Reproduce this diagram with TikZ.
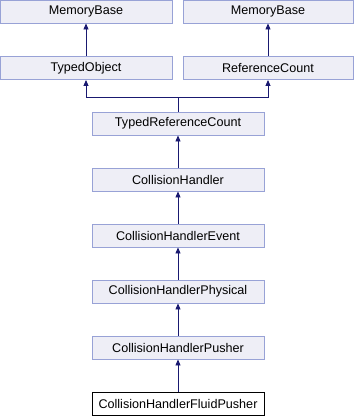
\documentclass[tikz,border=0pt]{standalone}
\usepackage{fontspec}
\setmainfont{Liberation Sans}
\usetikzlibrary{arrows.meta}
\definecolor{boxfill}{HTML}{EEEEF6}
\definecolor{boxline}{HTML}{98A2D6}
\definecolor{edge}{HTML}{191970}
\begin{document}
\begin{tikzpicture}[x=1pt,y=-1pt,
  cls/.style={draw=boxline,fill=boxfill,line width=0.9pt,minimum height=23pt,
    inner sep=0pt,font=\fontsize{12.6}{14}\selectfont,text=black},
  leaf/.style={cls,draw=black,fill=white},
  inh/.style={draw=edge,line width=0.9pt,-{Triangle[length=6pt,width=5pt]}}]
\useasboundingbox (0,0) rectangle (356,416);
% base classes
\node[cls,minimum width=172pt] (mb1) at (86,11.5) {MemoryBase};
\node[cls,minimum width=170pt] (mb2) at (268,11.5) {MemoryBase};
\node[cls,minimum width=172pt] (to) at (86,68) {TypedObject};
\node[cls,minimum width=170pt] (rc) at (268,68) {ReferenceCount};
% single inheritance chain
\node[cls,minimum width=172pt] (trc) at (178,123.5) {TypedReferenceCount};
\node[cls,minimum width=172pt] (ch) at (178,179.5) {CollisionHandler};
\node[cls,minimum width=172pt] (che) at (178,235.5) {CollisionHandlerEvent};
\node[cls,minimum width=172pt] (chp) at (178,291.5) {CollisionHandlerPhysical};
\node[cls,minimum width=172pt] (chpu) at (178,347.5) {CollisionHandlerPusher};
\node[leaf,minimum width=172pt] (chfp) at (178,403.5) {CollisionHandlerFluidPusher};
% inheritance edges
\coordinate (j) at (178,97);
\draw[inh] (to.north) -- (mb1.south);
\draw[inh] (rc.north) -- (mb2.south);
\draw[inh] (trc.north) -- (j) -| (to.south);
\draw[inh] (j) -| (rc.south);
\draw[inh] (ch.north) -- (trc.south);
\draw[inh] (che.north) -- (ch.south);
\draw[inh] (chp.north) -- (che.south);
\draw[inh] (chpu.north) -- (chp.south);
\draw[inh] (chfp.north) -- (chpu.south);
\end{tikzpicture}
\end{document}
